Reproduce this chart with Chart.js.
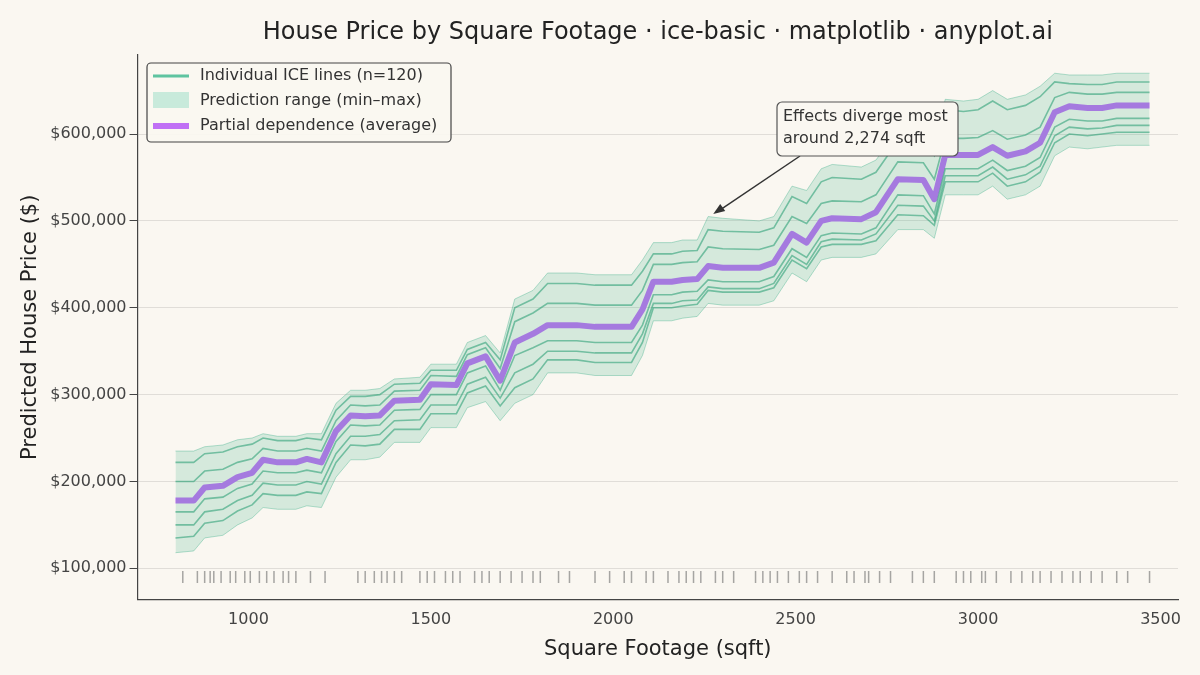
<!DOCTYPE html>
<html>
<head>
<meta charset="utf-8">
<script src="https://cdn.jsdelivr.net/npm/chart.js@4.4.0/dist/chart.umd.min.js"></script>
<style>
  body { margin: 0; background: #faf7f1; }
  #wrap { width: 1200px; height: 675px; }
</style>
</head>
<body>
<div id="wrap"><canvas id="myChart" width="1200" height="675"></canvas></div>
<script>
// grid of square footage values, prices in $1000s
var sqft = [800,850,880,930,970,1010,1040,1080,1130,1160,1200,1240,1280,1320,1360,1400,1470,1500,1570,1600,1650,1690,1730,1780,1820,1900,1950,2050,2080,2110,2160,2190,2230,2260,2300,2400,2440,2490,2530,2570,2600,2680,2720,2780,2850,2880,2910,2960,3000,3040,3080,3130,3170,3210,3250,3300,3340,3380,3470];
var pdAvg = [178,178,193,195,205,210,225,222,222,226,222,258,276,275,276,293,294,312,311,336,344,316,360,370,380,380,378,378,398,430,430,432,433,448,446,446,452,485,475,500,503,502,510,548,547,525,576,576,576,585,575,580,590,625,632,630,630,633,633];
var rangeMax = [235,235,240,242,248,250,255,252,252,255,255,290,305,305,307,318,320,335,335,360,368,348,410,420,440,440,438,438,455,475,475,478,478,505,503,500,505,540,535,560,565,562,570,605,605,590,640,638,640,650,640,645,655,670,668,668,668,670,670];
var rangeMin = [118,120,135,138,150,158,170,168,168,172,170,205,225,225,228,245,245,262,262,285,292,270,290,300,325,325,322,322,345,385,385,388,390,405,403,403,408,440,430,455,458,458,462,490,490,480,530,530,530,540,525,530,540,575,585,583,585,587,587];
// a few representative ICE lines
var iceA = [222,222,232,234,240,243,250,247,247,250,248,282,298,298,300,312,313,328,328,352,360,340,400,410,428,428,426,426,442,462,462,465,466,490,488,487,492,528,520,545,550,548,556,592,591,575,628,626,628,638,628,633,643,660,658,657,657,660,660];
var iceB = [200,200,212,214,222,226,238,235,235,238,235,270,288,287,288,304,305,322,321,346,354,330,384,394,405,405,403,403,420,450,450,452,453,470,468,467,472,505,497,520,523,522,530,568,567,548,595,595,596,604,594,599,608,642,648,646,646,648,648];
var iceC = [165,165,180,182,192,197,212,210,210,213,210,246,265,264,265,282,283,300,300,325,333,305,345,354,362,362,360,360,380,415,415,418,419,432,430,430,436,468,458,483,486,485,492,530,529,508,560,560,560,570,558,563,573,608,617,615,615,618,618];
var iceD = [135,137,152,155,166,173,186,184,184,188,186,222,242,241,243,260,260,278,278,302,310,287,308,318,340,340,337,337,360,400,400,402,404,420,418,418,423,455,445,470,473,473,477,507,506,495,545,545,545,555,540,545,556,590,600,598,600,602,602];
var iceE = [150,150,165,168,178,184,198,196,196,200,197,232,252,252,254,270,271,288,288,312,320,296,325,335,350,350,348,348,370,405,405,408,409,424,422,422,428,460,450,476,479,478,485,518,517,500,552,552,552,562,548,553,563,598,608,606,607,610,610];
var rugSqft = [820,860,880,895,905,925,950,965,990,1005,1030,1050,1070,1095,1110,1130,1170,1210,1300,1320,1345,1365,1380,1400,1420,1470,1490,1510,1540,1560,1580,1620,1640,1660,1690,1720,1750,1780,1800,1850,1880,1950,1990,2030,2050,2090,2110,2150,2180,2200,2220,2240,2280,2300,2330,2390,2410,2430,2450,2480,2510,2530,2560,2600,2640,2660,2690,2700,2730,2760,2820,2850,2880,2940,2960,2980,3010,3020,3050,3090,3120,3150,3170,3200,3230,3260,3280,3310,3340,3380,3410,3470];
var titleText = 'House Price by Square Footage \u00b7 ice-basic \u00b7 matplotlib \u00b7 anyplot.ai';

function pts(arr) { return arr.map((v, i) => { return { x: sqft[i], y: v * 1000 }; }); }
var ICE = 'rgba(30,150,105,0.55)';
var iceSets = [iceA, iceB, iceC, iceD, iceE].map((arr) => {
    return { data: pts(arr), borderColor: ICE, borderWidth: 1.6, pointRadius: 0, fill: false };
});

var extras = {
    id: 'extras',
    afterDraw(chart) {
        var ctx = chart.ctx, xs = chart.scales.x, ys = chart.scales.y, ca = chart.chartArea;
        ctx.save();
        // title centred over the plot area
        ctx.fillStyle = '#222'; ctx.font = '24px "DejaVu Sans"'; ctx.textAlign = 'center'; ctx.textBaseline = 'middle';
        ctx.fillText(titleText, (ca.left + ca.right) / 2, 33);
        ctx.textAlign = 'left';
        // annotation arrow + box
        var ax = xs.getPixelForValue(2274), ay = ys.getPixelForValue(508000);
        var bx = 777, by = 102, bw = 181, bh = 54;
        ctx.strokeStyle = '#333'; ctx.lineWidth = 1.5;
        ctx.beginPath(); ctx.moveTo(800, by + bh); ctx.lineTo(ax + 4, ay - 2); ctx.stroke();
        ctx.fillStyle = '#333';
        ctx.beginPath(); ctx.moveTo(ax, ay); ctx.lineTo(ax + 12, ay - 3); ctx.lineTo(ax + 7, ay - 10); ctx.closePath(); ctx.fill();
        ctx.fillStyle = '#faf7f1'; ctx.strokeStyle = '#555'; ctx.lineWidth = 1.2;
        ctx.beginPath(); ctx.roundRect(bx, by, bw, bh, 5); ctx.fill(); ctx.stroke();
        ctx.fillStyle = '#333'; ctx.font = '16px "DejaVu Sans"';
        ctx.fillText('Effects diverge most', bx + 6, by + 15);
        ctx.fillText('around 2,274 sqft', bx + 6, by + 37);
        // legend
        var lx = 147, ly = 63;
        ctx.fillStyle = 'rgba(250,247,241,0.9)'; ctx.strokeStyle = '#444';
        ctx.beginPath(); ctx.roundRect(lx, ly, 304, 79, 4); ctx.fill(); ctx.stroke();
        ctx.strokeStyle = '#5ec4a0'; ctx.lineWidth = 3;
        ctx.beginPath(); ctx.moveTo(lx + 6, ly + 13); ctx.lineTo(lx + 42, ly + 13); ctx.stroke();
        ctx.fillStyle = '#c8eadb'; ctx.fillRect(lx + 6, ly + 29, 36, 16);
        ctx.strokeStyle = '#c070f5'; ctx.lineWidth = 6;
        ctx.beginPath(); ctx.moveTo(lx + 6, ly + 63); ctx.lineTo(lx + 42, ly + 63); ctx.stroke();
        ctx.fillStyle = '#333';
        ctx.fillText('Individual ICE lines (n=120)', lx + 53, ly + 13);
        ctx.fillText('Prediction range (min\u2013max)', lx + 53, ly + 38);
        ctx.fillText('Partial dependence (average)', lx + 53, ly + 63);
        ctx.restore();
    }
};

var ctx = document.getElementById('myChart').getContext('2d');
var myChart = new Chart(ctx, {
    type: 'line',
    data: {
        datasets: [
            { data: pts(rangeMax), borderColor: 'rgba(46,170,128,0.35)', borderWidth: 1, pointRadius: 0, fill: '+1', backgroundColor: 'rgba(46,170,128,0.18)' },
            { data: pts(rangeMin), borderColor: 'rgba(46,170,128,0.35)', borderWidth: 1, pointRadius: 0, fill: false }
        ].concat(iceSets).concat([
            { data: pts(pdAvg), borderColor: '#c070f5', borderWidth: 6, pointRadius: 0, fill: false, borderJoinStyle: 'round' },
            { type: 'scatter', data: rugSqft.map((v) => { return { x: v, y: 90000 }; }), pointStyle: 'line', rotation: 90, radius: 6, borderColor: 'rgba(110,110,110,0.6)', borderWidth: 1.5 }
        ])
    },
    options: {
        responsive: false,
        animation: false,
        layout: { padding: { left: 14, right: 22, top: 55, bottom: 9 } },
        plugins: {
            legend: { display: false },
            tooltip: { enabled: false },
            title: { display: false }
        },
        scales: {
            x: {
                type: 'linear', min: 696, max: 3548,
                afterBuildTicks: (axis) => { axis.ticks = [1000, 1500, 2000, 2500, 3000, 3500].map((v) => { return { value: v }; }); },
                grid: { display: false, drawTicks: true, tickColor: '#444' },
                border: { color: '#444', width: 1.2 },
                ticks: { color: '#444', font: { family: 'DejaVu Sans', size: 16 }, callback: (v) => { return String(v); } },
                title: { display: true, text: 'Square Footage (sqft)', color: '#222', font: { family: 'DejaVu Sans', size: 21 } }
            },
            y: {
                min: 64000, max: 691000,
                afterBuildTicks: (axis) => { axis.ticks = [100000, 200000, 300000, 400000, 500000, 600000].map((v) => { return { value: v }; }); },
                grid: { color: 'rgba(0,0,0,0.1)', tickColor: '#444' },
                border: { color: '#444', width: 1.2 },
                ticks: { color: '#444', font: { family: 'DejaVu Sans', size: 16 }, callback: (v) => { return '$' + v.toLocaleString('en-US'); } },
                title: { display: true, text: 'Predicted House Price ($)', color: '#222', font: { family: 'DejaVu Sans', size: 21 } }
            }
        }
    },
    plugins: [extras]
});
</script>
</body>
</html>
